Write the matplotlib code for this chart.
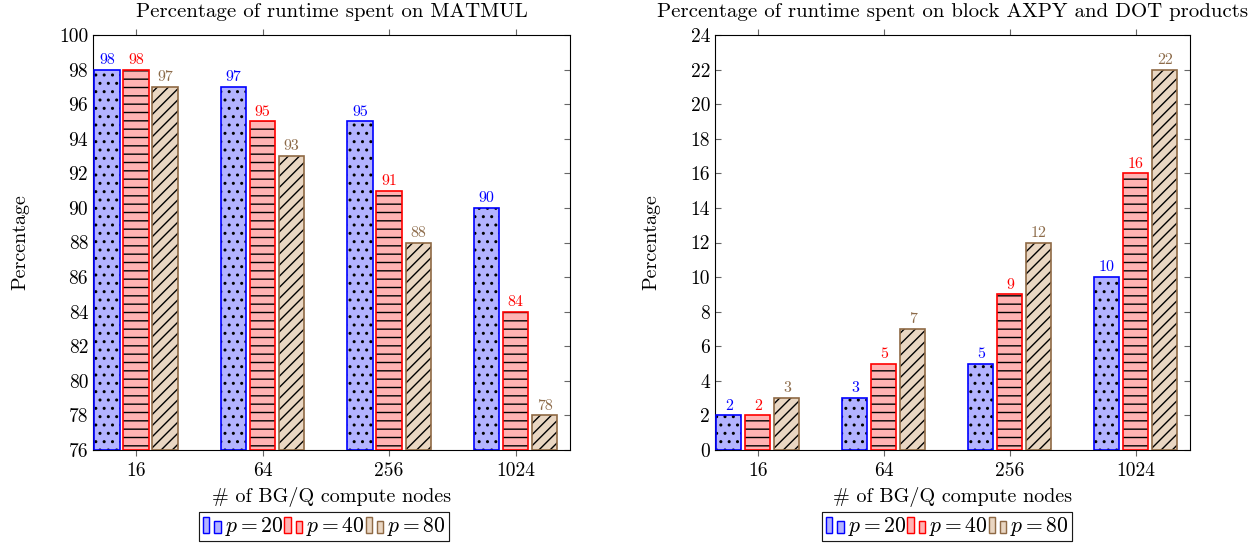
import matplotlib
matplotlib.use("Agg")
import matplotlib.pyplot as plt
import matplotlib.patches as mpatches
from matplotlib.legend_handler import HandlerBase
import numpy as np

plt.rcParams['font.family'] = 'serif'
plt.rcParams['font.serif'] = ['cmr10', 'DejaVu Serif']
plt.rcParams['mathtext.fontset'] = 'cm'
plt.rcParams['axes.unicode_minus'] = False
plt.rcParams['hatch.linewidth'] = 1.0

nodes = ["16", "64", "256", "1024"]
series = ["$p = 20$", "$p = 40$", "$p = 80$"]

matmul_p20 = [98, 97, 95, 90]
matmul_p40 = [98, 95, 91, 84]
matmul_p80 = [97, 93, 88, 78]

axpy_p20 = [2, 3, 5, 10]
axpy_p40 = [2, 5, 9, 16]
axpy_p80 = [3, 7, 12, 22]

faces = ["#b3b3ff", "#ffb3b3", "#e9d6c2"]
edges = ["#0000ff", "#ff0000", "#8f6a45"]
label_cols = ["#0000ff", "#ff0000", "#8c6a48"]
hatches = ["..", "--", "///"]
offsets = [-0.23, 0.0, 0.23]
width = 0.2


class BarIcon(HandlerBase):
    # two little bars, the second one shorter, like a bar-chart legend image
    def create_artists(self, legend, orig, xd, yd, w, h, fontsize, trans):
        bw = w * 0.3
        out = []
        for x0, hh in [(0.05, 1.0), (0.6, 0.72)]:
            r = mpatches.Rectangle((-xd + x0 * w, -yd), bw, h * hh,
                                   facecolor=orig.get_facecolor(),
                                   edgecolor=orig.get_edgecolor(), linewidth=1.0,
                                   transform=trans)
            out.append(r)
        return out


def draw(ax, groups, bottom, ylim, ystep, title, ylab_x):
    x = np.arange(len(nodes))
    for vals, off, fc, ec, lc, h in zip(groups, offsets, faces, edges, label_cols, hatches):
        heights = [v - bottom for v in vals]
        # fill + black hatch first, then the coloured outline on top
        ax.bar(x + off, heights, width, bottom=bottom, color=fc, edgecolor="black",
               linewidth=0, hatch=h, zorder=2)
        ax.bar(x + off, heights, width, bottom=bottom, fill=False, edgecolor=ec,
               linewidth=1.2, zorder=3)
        for xi, v in zip(x + off, vals):
            ax.annotate(str(v), (xi, v), xytext=(0, 2), textcoords="offset points",
                        ha="center", va="bottom", color=lc, fontsize=11.5)
    ax.set_xlim(-0.34, 3.43)
    ax.set_ylim(*ylim)
    ax.set_yticks(np.arange(ylim[0], ylim[1] + 1, ystep))
    ax.set_xticks(x)
    ax.set_xticklabels(nodes)
    ax.tick_params(axis="x", direction="out", top=True, length=4, color="#666666",
                   labelsize=14, pad=5)
    ax.tick_params(axis="y", direction="in", right=True, length=4, color="#666666",
                   labelsize=14)
    ax.set_xlabel("# of BG/Q compute nodes", fontsize=14.5)
    ax.xaxis.set_label_coords(0.5, -0.113)
    ax.xaxis.label.set_va("center")
    ax.set_ylabel("Percentage", fontsize=14.5)
    ax.yaxis.set_label_coords(ylab_x, 0.5)
    ax.yaxis.label.set_va("center")
    ax.set_title(title, fontsize=15, pad=13)


fig = plt.figure(figsize=(12.56, 5.46), dpi=100)
ax1 = fig.add_axes([93 / 1256, 96 / 546, 477 / 1256, 415 / 546])
ax2 = fig.add_axes([715 / 1256, 96 / 546, 475 / 1256, 415 / 546])

draw(ax1, [matmul_p20, matmul_p40, matmul_p80], 76, (76, 100), 2,
     "Percentage of runtime spent on MATMUL", -0.153)
draw(ax2, [axpy_p20, axpy_p40, axpy_p80], 0, (0, 24), 2,
     "Percentage of runtime spent on block AXPY and DOT products", -0.133)

handles = [mpatches.Patch(facecolor=fc, edgecolor=ec) for fc, ec in zip(faces, edges)]
for cx in [324 / 1256, 947 / 1256]:
    leg = fig.legend(handles, series, loc="upper center", bbox_to_anchor=(cx, 1 - 512 / 546),
                     ncol=3, fontsize=15.5, frameon=True, fancybox=False, edgecolor="black",
                     handler_map={mpatches.Patch: BarIcon()},
                     handlelength=0.95, handleheight=0.8, handletextpad=0.1,
                     columnspacing=0.0, borderpad=0.15, borderaxespad=0)
    leg.get_frame().set_linewidth(0.8)
    fig.add_artist(leg)

fig.savefig("out.png", dpi=100)
